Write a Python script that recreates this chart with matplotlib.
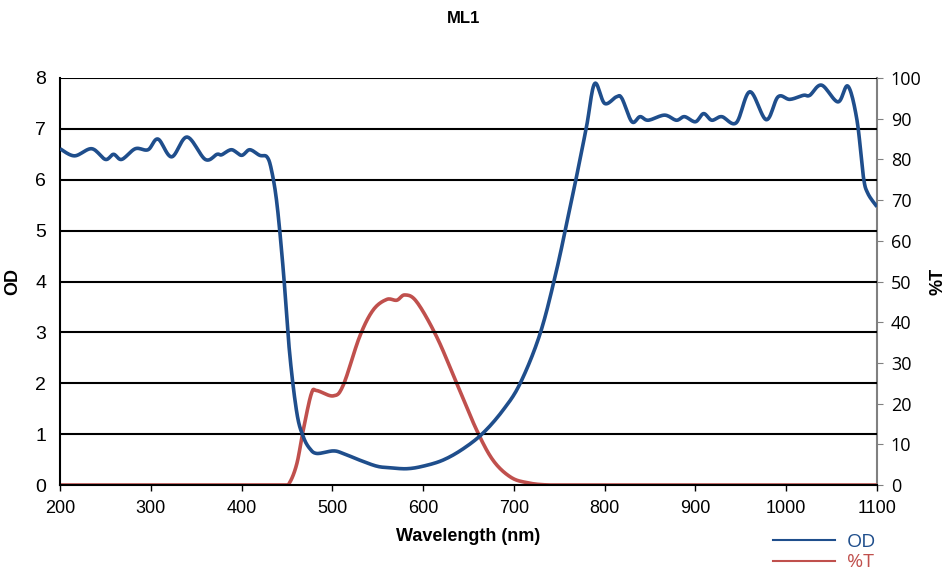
import numpy as np
import matplotlib.pyplot as plt
from matplotlib.lines import Line2D

# OD curve (blue)
od_wl = [200, 216, 235, 250, 259, 268, 283, 297, 308, 323, 340, 360, 373, 378, 389, 400,
         409, 420, 428, 433, 439, 446, 453, 461, 468, 475, 483, 501, 512, 530, 549, 563,
         582, 600, 622, 644, 666, 688, 707, 729, 747, 762, 769, 780, 789, 800, 813, 819,
         830, 839, 848, 866, 879, 888, 900, 909, 918, 929, 945, 960, 978, 991, 1004, 1019,
         1026, 1039, 1057, 1068, 1078, 1085, 1090, 1100]
od = [6.61, 6.47, 6.61, 6.40, 6.50, 6.40, 6.61, 6.59, 6.80, 6.45, 6.84, 6.40, 6.50, 6.49, 6.59, 6.48,
      6.59, 6.48, 6.45, 6.19, 5.53, 4.22, 2.59, 1.41, 0.95, 0.72, 0.62, 0.67, 0.62, 0.49, 0.37, 0.34,
      0.32, 0.37, 0.49, 0.71, 1.02, 1.47, 2.00, 2.98, 4.22, 5.47, 6.06, 7.04, 7.89, 7.50, 7.63, 7.60,
      7.14, 7.24, 7.17, 7.27, 7.17, 7.24, 7.14, 7.30, 7.17, 7.24, 7.12, 7.73, 7.18, 7.63, 7.58, 7.66,
      7.66, 7.86, 7.53, 7.84, 7.17, 6.06, 5.73, 5.47]

# %T curve (red)
t_wl = [200, 300, 400, 446, 453, 461, 468, 477, 483, 501, 512, 530, 545, 560, 571, 580,
        593, 615, 637, 659, 677, 696, 714, 740, 800, 900, 1000, 1100]
t = [0, 0, 0, 0, 0.6, 5.3, 13.5, 22.5, 23.2, 21.9, 24.5, 36.4, 43.0, 45.6, 45.4, 46.7,
     45.0, 36.4, 25.0, 13.5, 6.1, 2.0, 0.6, 0, 0, 0, 0, 0]

xticks = [200, 300, 400, 500, 600, 700, 800, 900, 1000, 1100]
od_ticks = [0, 1, 2, 3, 4, 5, 6, 7, 8]
t_ticks = [0, 10, 20, 30, 40, 50, 60, 70, 80, 90, 100]

blue = '#1F4E8C'
red = '#C0504D'


def smooth(x, y, n=12):
    # Catmull-Rom spline through the points, like Excel's smoothed line
    p = np.column_stack([x, y]).astype(float)
    p = np.vstack([p[0], p, p[-1]])
    s = np.linspace(0, 1, n, endpoint=False)[:, None]
    out = []
    for i in range(1, len(p) - 2):
        p0, p1, p2, p3 = p[i - 1], p[i], p[i + 1], p[i + 2]
        out.append(0.5 * (2 * p1 + (-p0 + p2) * s + (2 * p0 - 5 * p1 + 4 * p2 - p3) * s ** 2
                          + (-p0 + 3 * p1 - 3 * p2 + p3) * s ** 3))
    out.append(p[-2][None, :])
    out = np.vstack(out)
    return out[:, 0], out[:, 1]


plt.rcParams['font.family'] = ['Liberation Sans', 'DejaVu Sans']

fig = plt.figure(figsize=(9.49, 5.71), dpi=100)
ax = fig.add_axes([0.0632, 0.1506, 0.8609, 0.7128])
ax2 = ax.twinx()

# grid lines
for v in od_ticks[1:]:
    ax.axhline(v, color='black', lw=1.5, zorder=1)

ax.plot(*smooth(od_wl, od), color=blue, lw=2.6, zorder=3, solid_capstyle='butt')
tx, ty = smooth(t_wl, t)
ax2.plot(tx, np.clip(ty, 0, None), color=red, lw=2.6, zorder=3, solid_capstyle='butt')
ax.set_zorder(2)
ax.patch.set_visible(False)

ax.set_xlim(200, 1100)
ax.set_ylim(0, 8)
ax2.set_ylim(0, 100)
ax.set_xticks(xticks)
ax.set_yticks(od_ticks)
ax2.set_yticks(t_ticks)

ax.tick_params(axis='x', direction='out', length=4, width=1, labelsize=13, pad=7)
ax.tick_params(axis='y', length=0, labelsize=14, pad=10)
ax2.tick_params(axis='y', direction='out', length=4, color='#808080', labelsize=13, pad=6)
for lab in ax2.get_yticklabels():
    lab.set_fontfamily(['Open Sans', 'DejaVu Sans'])

ax.spines['top'].set_visible(False)
ax2.spines['top'].set_visible(False)
ax.spines['left'].set_linewidth(1.5)
ax.spines['bottom'].set_linewidth(1.5)
ax.spines['right'].set_visible(False)
ax2.spines['left'].set_visible(False)
ax2.spines['bottom'].set_visible(False)
ax2.spines['right'].set_color('#808080')
ax2.spines['right'].set_linewidth(1.5)

ax.set_xlabel('Wavelength (nm)', fontsize=13, fontweight='bold', labelpad=8)
ax.set_ylabel('OD', fontsize=13, fontweight='bold', labelpad=10)
ax2.set_ylabel('%T', fontsize=13, fontweight='bold', labelpad=6)

fig.text(0.488, 0.968, 'ML1', ha='center', va='center', fontsize=12, fontweight='bold')

# legend below the plot, at lower right
handles = [Line2D([], [], color=blue, lw=1.5), Line2D([], [], color=red, lw=1.5)]
leg = fig.legend(handles, ['OD', '%T'], loc='center left',
                 bbox_to_anchor=(773 / 949, 1 - 552 / 571),
                 frameon=False, borderpad=0, borderaxespad=0,
                 handlelength=3.2, handletextpad=0.6, labelspacing=0.15,
                 prop={'family': ['Open Sans', 'DejaVu Sans'], 'size': 14})
for txt, c in zip(leg.get_texts(), [blue, red]):
    txt.set_color(c)

fig.savefig('out.png', dpi=100)
